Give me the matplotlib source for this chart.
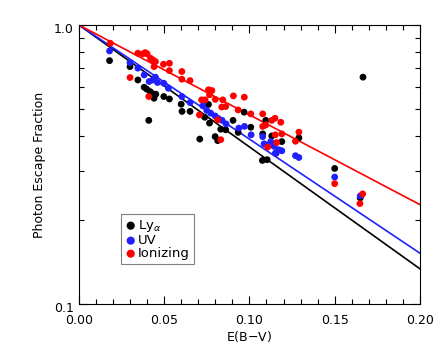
import numpy as np
import matplotlib
matplotlib.use('Agg')
import matplotlib.pyplot as plt
import matplotlib.transforms as mtransforms
from matplotlib.ticker import FixedLocator, FixedFormatter, MultipleLocator, NullFormatter

# Datos: E(B-V) y fraccion de escape
lya_x = [0.018, 0.030, 0.0346, 0.0383, 0.0398, 0.0418, 0.0428, 0.0441, 0.0451, 0.0498,
         0.0531, 0.041, 0.060, 0.0605, 0.0652, 0.0709, 0.076, 0.0738, 0.0766, 0.0799,
         0.0814, 0.0832, 0.0861, 0.0904, 0.0934, 0.0969, 0.1008, 0.1078, 0.1076, 0.1104,
         0.1096, 0.1131, 0.1156, 0.119, 0.129, 0.150, 0.1666, 0.165]
lya_y = [0.745, 0.709, 0.635, 0.598, 0.589, 0.577, 0.569, 0.546, 0.565, 0.554,
         0.543, 0.455, 0.520, 0.490, 0.490, 0.390, 0.519, 0.467, 0.445, 0.398,
         0.385, 0.423, 0.421, 0.455, 0.412, 0.487, 0.430, 0.407, 0.327, 0.329,
         0.455, 0.400, 0.347, 0.382, 0.394, 0.306, 0.650, 0.240]

uv_x = [0.018, 0.030, 0.0346, 0.0383, 0.0412, 0.0434, 0.0449, 0.0461, 0.0498, 0.0525,
        0.0604, 0.0652, 0.0727, 0.075, 0.0773, 0.0799, 0.0818, 0.084, 0.0863, 0.0938,
        0.0971, 0.101, 0.1078, 0.1086, 0.1107, 0.1125, 0.1145, 0.1152, 0.1172, 0.119,
        0.127, 0.129, 0.150, 0.165]
uv_y = [0.807, 0.733, 0.700, 0.662, 0.627, 0.635, 0.650, 0.622, 0.618, 0.593,
        0.554, 0.527, 0.513, 0.494, 0.483, 0.472, 0.462, 0.455, 0.442, 0.427,
        0.433, 0.404, 0.398, 0.375, 0.371, 0.382, 0.367, 0.347, 0.357, 0.354,
        0.340, 0.335, 0.285, 0.244]

ion_x = [0.0184, 0.030, 0.0346, 0.0375, 0.0389, 0.040, 0.042, 0.0434, 0.0449, 0.0441,
         0.041, 0.0496, 0.0531, 0.0531, 0.0604, 0.0604, 0.0652, 0.0707, 0.072, 0.074,
         0.076, 0.078, 0.0766, 0.080, 0.0813, 0.0832, 0.0844, 0.0838, 0.0861, 0.0906,
         0.0934, 0.097, 0.1008, 0.1078, 0.1078, 0.1096, 0.1107, 0.1131, 0.115, 0.116,
         0.1152, 0.1184, 0.119, 0.127, 0.129, 0.150, 0.1648, 0.1664]
ion_y = [0.860, 0.648, 0.792, 0.788, 0.796, 0.788, 0.760, 0.750, 0.739, 0.709,
         0.554, 0.723, 0.729, 0.686, 0.681, 0.639, 0.632, 0.476, 0.539, 0.539,
         0.586, 0.582, 0.562, 0.541, 0.457, 0.388, 0.539, 0.508, 0.510, 0.557,
         0.496, 0.551, 0.480, 0.480, 0.433, 0.438, 0.365, 0.455, 0.463, 0.379,
         0.404, 0.448, 0.407, 0.383, 0.413, 0.270, 0.229, 0.248]

# Pendientes de los ajustes: f = 10**(-a * E(B-V))
pend = [4.37, 4.09, 3.22]
colores = ['black', '#2020ff', 'red']
etiquetas = [r'Ly$_\alpha$', 'UV', 'Ionizing']

fig = plt.figure(figsize=(4.43, 3.55), dpi=100)
ax = fig.add_axes([0.178, 0.1437, 0.77, 0.786])

xx = np.linspace(0, 0.2, 200)
for a, c in zip(pend, colores):
    ax.plot(xx, 10 ** (-a * xx), color=c, linewidth=1.2)

for xs, ys, c, lab in zip([lya_x, uv_x, ion_x], [lya_y, uv_y, ion_y], colores, etiquetas):
    ax.scatter(xs, ys, s=24, color=c, edgecolors='none', label=lab, zorder=3)

ax.set_yscale('log')
ax.set_xlim(0, 0.2)
ax.set_ylim(0.1, 1.0)
ax.xaxis.set_minor_locator(MultipleLocator(0.01))
ax.set_xticks([0, 0.05, 0.10, 0.15, 0.20])
ax.set_xticklabels(['0.00', '0.05', '0.10', '0.15', '0.20'])
ax.yaxis.set_major_locator(FixedLocator([0.1, 1.0]))
ax.yaxis.set_major_formatter(FixedFormatter(['0.1', '1.0']))
ax.yaxis.set_minor_locator(FixedLocator([0.2, 0.3, 0.4, 0.5, 0.6, 0.7, 0.8, 0.9]))
ax.yaxis.set_minor_formatter(NullFormatter())

ax.tick_params(which='both', direction='in', top=True, right=True, labelsize=9, width=0.8)
ax.tick_params(which='major', length=6)
ax.tick_params(which='minor', length=3.5)
ax.tick_params(axis='x', pad=7)
for s in ax.spines.values():
    s.set_linewidth(0.8)

# etiquetas del eje y un poco desplazadas hacia abajo, como en el original
desp = mtransforms.ScaledTranslation(0, -3 / 100, fig.dpi_scale_trans)
for lbl in ax.get_yticklabels():
    lbl.set_transform(lbl.get_transform() + desp)

ax.set_xlabel('E(B$-$V)', fontsize=9, labelpad=2)
ax.set_ylabel('Photon Escape Fraction', fontsize=9, labelpad=6)

leg = ax.legend(loc='lower left', bbox_to_anchor=(0.123, 0.143), borderaxespad=0,
                fontsize=9.5, fancybox=False, framealpha=1, edgecolor='gray',
                handletextpad=0.1, handlelength=0.9, labelspacing=0.0,
                borderpad=0.3, scatterpoints=1, markerscale=1.2)
leg.get_frame().set_linewidth(0.8)

plt.savefig('out.png', dpi=100)
